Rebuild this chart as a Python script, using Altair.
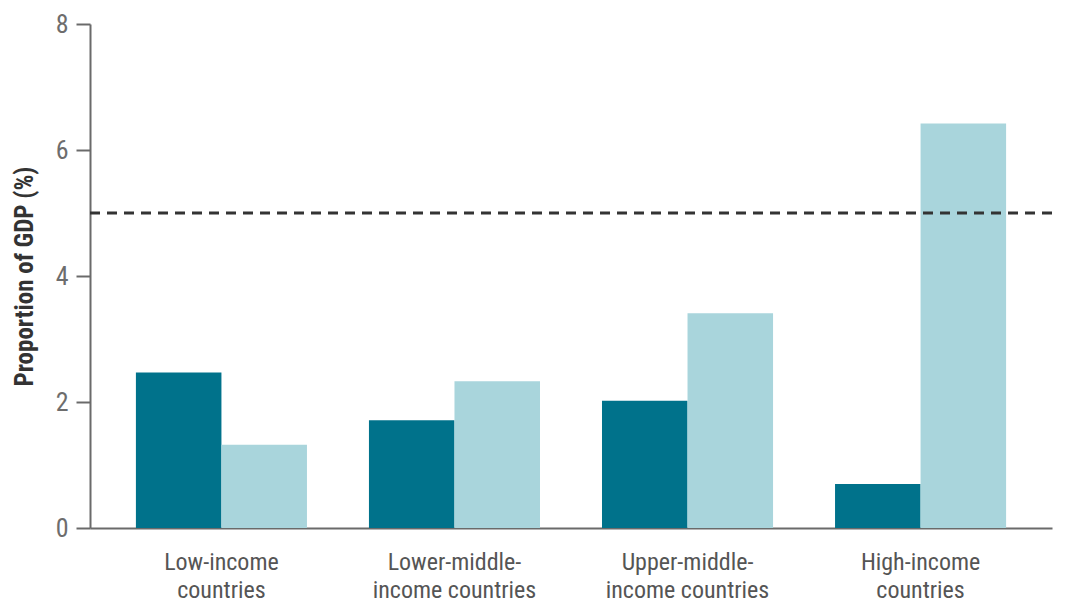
import altair as alt
import pandas as pd

categories = ["Low-income\ncountries", "Lower-middle-\nincome countries",
              "Upper-middle-\nincome countries", "High-income\ncountries"]
series = ["A", "B"]
values_a = [2.47, 1.71, 2.02, 0.70]
values_b = [1.32, 2.33, 3.41, 6.42]
reference_value = [5]
y_ticks = [0, 2, 4, 6, 8]

rows = []
for c, a, b in zip(categories, values_a, values_b):
    rows.append({"group": c, "series": series[0], "value": a})
    rows.append({"group": c, "series": series[1], "value": b})
df = pd.DataFrame(rows)

FONT = "Liberation Sans Narrow, Roboto Condensed, Open Sans, sans-serif"

bars = alt.Chart(df).mark_bar().encode(
    x=alt.X("group:N", sort=categories,
            scale=alt.Scale(paddingInner=0.266, paddingOuter=0.197),
            axis=alt.Axis(title=None, labelAngle=0, ticks=False,
                          labelExpr="split(datum.label, '\\n')",
                          labelFontSize=24, labelColor="#555555",
                          labelFont=FONT, labelPadding=22, labelLineHeight=28,
                          domainColor="#6a6a6a", domainWidth=2)),
    xOffset=alt.XOffset("series:N", sort=series),
    y=alt.Y("value:Q", scale=alt.Scale(domain=[0, 8]),
            axis=alt.Axis(title="Proportion of GDP (%)", values=y_ticks, format="d",
                          grid=False, tickSize=14, tickWidth=2, tickColor="#6a6a6a",
                          domainColor="#6a6a6a", domainWidth=2,
                          labelFontSize=26, labelColor="#6d6d6d", labelFont=FONT,
                          labelPadding=8,
                          titleFontSize=25, titleFontWeight="bold", titleColor="#333333",
                          titleFont=FONT, titlePadding=18)),
    color=alt.Color("series:N", sort=series,
                    scale=alt.Scale(domain=series, range=["#00728B", "#A9D5DC"]),
                    legend=None),
)

rule = alt.Chart(pd.DataFrame({"y": reference_value})).mark_rule(
    color="#333333", strokeWidth=3, strokeDash=[10, 7]
).encode(y="y:Q")

chart = alt.layer(bars, rule).properties(
    width=962, height=504,
    autosize=alt.AutoSizeParams(type="none"),
    padding={"left": 82, "top": 16, "right": 10, "bottom": 76},
).configure_view(stroke=None)

chart.save("out.html", embed_options={"renderer": "svg", "actions": False})
